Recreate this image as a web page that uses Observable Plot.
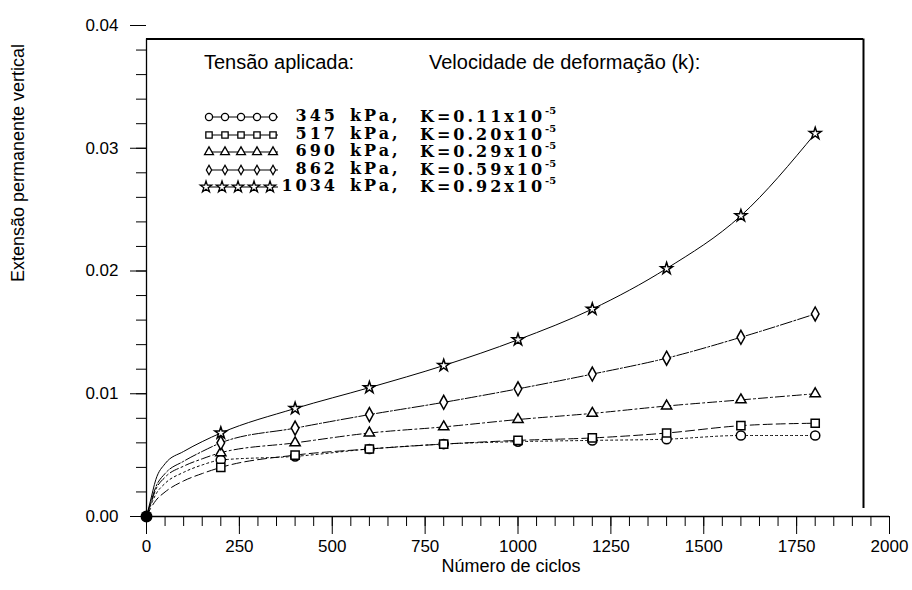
<!DOCTYPE html>
<html>
<head>
<meta charset="utf-8">
<script src="https://cdn.jsdelivr.net/npm/d3@7"></script>
<script src="https://cdn.jsdelivr.net/npm/@observablehq/plot@0.6"></script>
<style>
  body { margin: 0; background: #fff; }
  #wrap { position: relative; width: 912px; height: 590px; font-family: "Liberation Sans", Arial, sans-serif; color: #000; }
  #wrap svg.plot { position: absolute; left: 0; top: 0; }
  .abs { position: absolute; white-space: nowrap; line-height: 1; }
  .hdr { font-size: 20px; }
  .row { font-family: "DejaVu Serif", "Liberation Serif", serif; font-weight: bold; font-size: 16px; letter-spacing: 3px; }
  .row sup { font-size: 10px; letter-spacing: 0; position: relative; top: -2px; }
  .ylab { font-size: 18px; transform: rotate(-90deg); transform-origin: center center; }
  .xlab { font-size: 18px; }
</style>
</head>
<body>
<div id="wrap"></div>
<script>
// ---- data ----
const cycles = [200, 400, 600, 800, 1000, 1200, 1400, 1600, 1800];
const earlyCycles = [0, 10, 25, 50, 100, 150];           // points read along the curves near the origin
const stressLabels = ["345", "517", "690", "862", "1034"];
const kLabels = ["0.11", "0.20", "0.29", "0.59", "0.92"];

const s345  = [0.0046, 0.0049, 0.0055, 0.0059, 0.0061, 0.0062, 0.0063, 0.0066, 0.0066];
const s517  = [0.0040, 0.0050, 0.0055, 0.0059, 0.0062, 0.0064, 0.0068, 0.0074, 0.0076];
const s690  = [0.0052, 0.0060, 0.0068, 0.0073, 0.0079, 0.0084, 0.0090, 0.0095, 0.0100];
const s862  = [0.0060, 0.0072, 0.0083, 0.0093, 0.0104, 0.0116, 0.0129, 0.0146, 0.0165];
const s1034 = [0.0068, 0.0088, 0.0105, 0.0123, 0.0144, 0.0169, 0.0202, 0.0245, 0.0312];

const e345  = [0, 0.0008, 0.0018, 0.0027, 0.0036, 0.0042];
const e517  = [0, 0.0006, 0.0013, 0.0020, 0.0029, 0.0035];
const e690  = [0, 0.0009, 0.0022, 0.0032, 0.0041, 0.0047];
const e862  = [0, 0.0010, 0.0024, 0.0035, 0.0045, 0.0053];
const e1034 = [0, 0.0012, 0.0030, 0.0043, 0.0053, 0.0061];

const xMinorTicks = d3.range(0, 2001, 50);
const xMajorTicks = [0, 250, 500, 750, 1000, 1250, 1500, 1750, 2000];
const yMinorTicks = d3.range(0, 21).map(i => i * 0.002);
const yMajorTicks = [0, 0.01, 0.02, 0.03, 0.04];
const frameTop = 0.0389, frameRight = 1930, frameRightBottom = 0.00065;

// ---- symbols ----
const narrowDiamond = {
  draw(ctx, size) {
    const r = Math.sqrt(size / Math.PI);
    const w = r * 0.8, h = r * 1.45;
    ctx.moveTo(0, -h); ctx.lineTo(w, 0); ctx.lineTo(0, h); ctx.lineTo(-w, 0); ctx.closePath();
  }
};

const series = [
  {vals: s345,  early: e345,  symbol: "circle",   r: 4.6, dash: "2,3"},
  {vals: s517,  early: e517,  symbol: "square",   r: 4.6, dash: "9,4"},
  {vals: s690,  early: e690,  symbol: "triangle", r: 3.8, dash: "9,3,2,3"},
  {vals: s862,  early: e862,  symbol: narrowDiamond, r: 4.8, dash: "12,2,2,2"},
  {vals: s1034, early: e1034, symbol: "star",     r: 3.7, dash: null}
];

const marks = [];
// axes
marks.push(Plot.axisX({ticks: xMinorTicks, tickSize: 10, tickFormat: () => "", label: null}));
marks.push(Plot.axisX({ticks: xMajorTicks, tickSize: 18, tickPadding: 5, fontSize: 17, tickFormat: d => String(d), label: null}));
marks.push(Plot.axisY({ticks: yMinorTicks, tickSize: 10, tickFormat: () => "", label: null}));
marks.push(Plot.axisY({ticks: yMajorTicks, tickSize: 16, tickPadding: 12, fontSize: 17, tickFormat: d => d.toFixed(2), label: null}));
// frame
marks.push(Plot.ruleX([0], {y1: 0, y2: frameTop, strokeWidth: 1.3}));
marks.push(Plot.ruleY([0], {x1: 0, x2: 2000, strokeWidth: 1.3}));
marks.push(Plot.ruleY([frameTop], {x1: 0, x2: frameRight, strokeWidth: 2}));
marks.push(Plot.ruleX([frameRight], {y1: frameRightBottom, y2: frameTop, strokeWidth: 2}));

for (const s of series) {
  const pts = cycles.map((c, i) => ({x: c, y: s.vals[i]}));
  const linePts = earlyCycles.map((c, i) => ({x: c, y: s.early[i]})).concat(pts);
  marks.push(Plot.line(linePts, {x: "x", y: "y", curve: "monotone-x", stroke: "black", strokeWidth: 1, strokeDasharray: s.dash}));
  marks.push(Plot.dot(pts, {x: "x", y: "y", symbol: s.symbol, r: s.r, stroke: "black", fill: "white", strokeWidth: 1.5}));
}
marks.push(Plot.dot([{x: 0, y: 0}], {x: "x", y: "y", r: 6, fill: "black"}));

const chart = Plot.plot({
  width: 912,
  height: 590,
  marginLeft: 146,
  marginRight: 23,
  marginTop: 25,
  marginBottom: 74,
  x: {domain: [0, 2000], axis: null},
  y: {domain: [0, 0.04], axis: null},
  style: {fontFamily: "Liberation Sans, Arial, sans-serif", fontSize: "17px", color: "black", background: "white"},
  marks
});
const wrap = document.getElementById("wrap");
wrap.appendChild(chart);

// ---- text & legend ----
function addDiv(cls, text, styles) {
  const d = document.createElement("div");
  d.className = "abs " + cls;
  d.innerHTML = text;
  Object.assign(d.style, styles);
  wrap.appendChild(d);
  return d;
}
addDiv("hdr", "Tensão aplicada:", {left: "204px", top: "52px"});
addDiv("hdr", "Velocidade de deformação (k):", {left: "429px", top: "52px"});
addDiv("xlab", "Número de ciclos", {left: "0px", width: "1022px", textAlign: "center", top: "557px"});
const yl = addDiv("ylab", "Extensão permanente vertical", {});
yl.style.width = "400px"; yl.style.textAlign = "center";
yl.style.left = (18 - 200) + "px"; yl.style.top = (163 - 9) + "px";

const symbolTypes = [d3.symbolCircle, d3.symbolSquare, d3.symbolTriangle, narrowDiamond, d3.symbolStar];
const symbolSizes = [40, 40, 34, 34, 40];
stressLabels.forEach((st, i) => {
  const top = 108 + i * 17.6;
  addDiv("row", st, {left: "270px", width: "68px", textAlign: "right", top: top + "px"});
  addDiv("row", "kPa,", {left: "350px", top: top + "px"});
  addDiv("row", "K=" + kLabels[i] + "x10<sup>-5</sup>", {left: "420px", top: top + "px"});
  // swatch
  const sw = d3.create("svg").attr("width", 92).attr("height", 16)
    .style("position", "absolute").style("left", "198px").style("top", (top + 1) + "px");
  sw.append("line").attr("x1", 8).attr("x2", 80).attr("y1", 8).attr("y2", 8).attr("stroke", "black").attr("stroke-width", 1.2);
  const xs = i === 4 ? [8, 24, 40, 56, 72] : [11, 27, 43, 59, 75];
  xs.forEach(x => {
    sw.append("path").attr("d", d3.symbol(symbolTypes[i], symbolSizes[i])())
      .attr("transform", `translate(${x},8)`).attr("fill", "white").attr("stroke", "black").attr("stroke-width", 1.3);
  });
  wrap.appendChild(sw.node());
});
</script>
</body>
</html>
